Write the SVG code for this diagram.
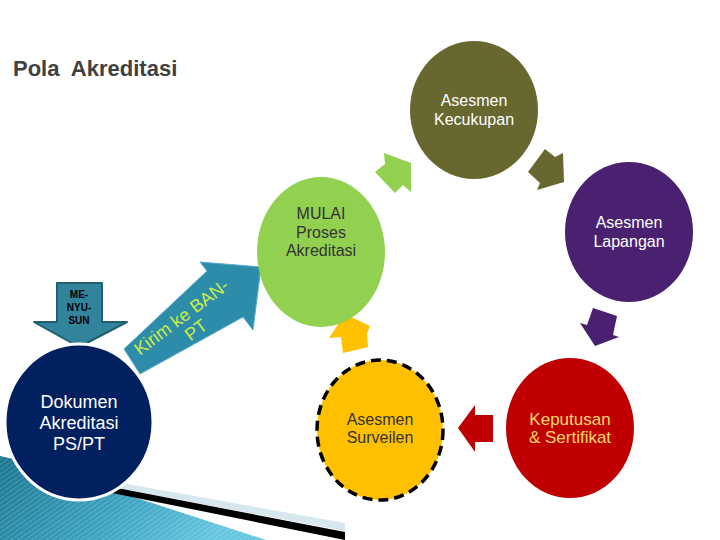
<svg xmlns="http://www.w3.org/2000/svg" width="720" height="540" viewBox="0 0 720 540">
<defs>
<style>
.t{font-family:"Liberation Sans",Arial,sans-serif;font-size:16px;text-anchor:middle}
.w{fill:#ffffff}
.d{fill:#333333}
.k{font-family:"Liberation Sans",Arial,sans-serif;font-size:18px;text-anchor:middle;fill:#CCEE44}
.m{font-family:"Liberation Sans",Arial,sans-serif;font-size:10px;font-weight:bold;text-anchor:middle;fill:#000}
</style>
<linearGradient id="tealg" x1="0" y1="0" x2="1" y2="0.3">
<stop offset="0" stop-color="#1B758E"/>
<stop offset="0.6" stop-color="#3FA5C3"/>
<stop offset="1" stop-color="#66C6DF"/>
</linearGradient>
<pattern id="stripes" width="4" height="4" patternUnits="userSpaceOnUse" patternTransform="rotate(55)">
<rect width="1" height="4" fill="#ffffff" opacity="0.18"/>
</pattern>
</defs>
<rect width="720" height="540" fill="#ffffff"/>

<g id="decoration">
<path d="M0,456 Q60,468 112,490 L266,540 L0,540 Z" fill="url(#tealg)"/>
<path d="M0,456 Q60,468 112,490 L266,540 L0,540 Z" fill="url(#stripes)"/>
<polygon points="122,483 345,523 345,531 122,489" fill="#D6E7EF"/>
<polygon points="112,487 345,532 345,540 112,493" fill="#000000"/>
</g>

<text x="13" y="76" xml:space="preserve" style="white-space:pre" font-family="Liberation Sans,Arial,sans-serif" font-size="22" font-weight="bold" fill="#404040">Pola  Akreditasi</text>

<g id="connectors">
<polygon id="arrow-green" points="384,153 411,163 411,192 403,185 395,193 375,172 385,164" fill="#92D050"/>
<polygon id="arrow-olive" points="528,172 545,149 555,157 563,153 564,182 537,190 540,183" fill="#67672F"/>
<polygon id="arrow-purple" points="595,346 580,323 587,325 593,308 617,316 613,335 619,337" fill="#4A2170"/>
<polygon id="arrow-red" points="458,428 475,405 475,415 493,415 493,442 475,442 475,452" fill="#C00000"/>
<polygon id="arrow-yellow" points="345,314 370,326 367,333 368,347 343,353 341,337 329,338" fill="#FFC000"/>
<g id="arrow-kirim">
<polygon points="124,349 207,271 200,262 261,267 253,330 243,317 140,374" fill="#2E8CAB" stroke="#5AAFC9" stroke-width="1" stroke-linejoin="round"/>
<g transform="translate(185,322) rotate(-37)">
<text class="k" x="0" y="0">Kirim ke BAN-</text>
<text class="k" x="4" y="19">PT</text>
</g>
</g>
<g id="arrow-menyusun">
<polygon points="57,283 102,283 102,322 127,322 79,347 34,322 57,322" fill="#31849B" stroke="#215E6E" stroke-width="2" stroke-linejoin="round"/>
<text class="m" x="79" y="298">ME-</text>
<text class="m" x="79" y="311">NYU-</text>
<text class="m" x="79" y="324">SUN</text>
</g>
</g>

<g id="node-mulai">
<ellipse cx="321" cy="252" rx="64" ry="75" fill="#92D050"/>
<text class="t d" x="321" y="219">MULAI</text>
<text class="t d" x="321" y="238">Proses</text>
<text class="t d" x="321" y="256">Akreditasi</text>
</g>

<g id="node-kecukupan">
<ellipse cx="474" cy="110" rx="64" ry="69" fill="#67672F"/>
<text class="t w" x="474" y="106">Asesmen</text>
<text class="t w" x="474" y="125">Kecukupan</text>
</g>

<g id="node-lapangan">
<ellipse cx="629" cy="232" rx="64" ry="70" fill="#4A2170"/>
<text class="t w" x="629" y="228">Asesmen</text>
<text class="t w" x="629" y="247">Lapangan</text>
</g>

<g id="node-keputusan">
<ellipse cx="570" cy="428" rx="64" ry="70" fill="#C00000"/>
<text class="t" x="570" y="425" fill="#FFD966" style="font-size:17px">Keputusan</text>
<text class="t" x="570" y="443" fill="#FFD966" style="font-size:17px">&amp; Sertifikat</text>
</g>

<g id="node-surveilen">
<ellipse cx="380" cy="430" rx="63" ry="70" fill="#FFC000" stroke="#000" stroke-width="3.5" stroke-dasharray="10,6"/>
<text class="t d" x="380" y="425">Asesmen</text>
<text class="t d" x="380" y="443">Surveilen</text>
</g>

<g id="node-dokumen">
<ellipse cx="79" cy="422" rx="74" ry="78" fill="#002060" stroke="#ffffff" stroke-width="3"/>
<text class="t w" x="79" y="408" style="font-size:18px">Dokumen</text>
<text class="t w" x="79" y="429" style="font-size:18px">Akreditasi</text>
<text class="t w" x="79" y="450" style="font-size:18px">PS/PT</text>
</g>
</svg>
